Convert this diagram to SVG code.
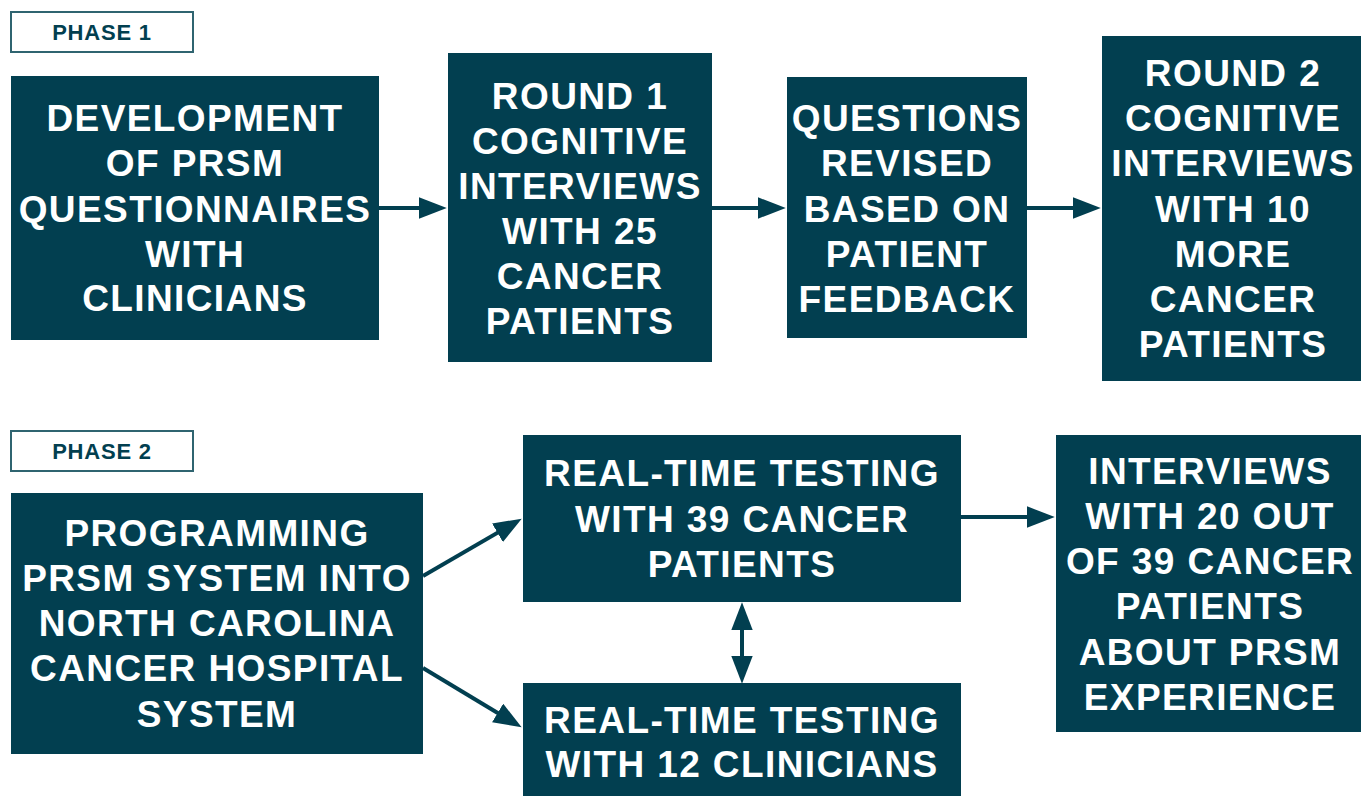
<svg xmlns="http://www.w3.org/2000/svg" width="1361" height="796" viewBox="0 0 1361 796">
<style>
.box{fill:#023f50}
.lbl{fill:#fff;stroke:#2f6470;stroke-width:2}
.t{font-family:"Liberation Sans",Arial,sans-serif;font-weight:bold;font-size:37px;fill:#fff;text-anchor:middle;letter-spacing:1.4px}
.p{font-family:"Liberation Sans",Arial,sans-serif;font-weight:bold;font-size:22px;fill:#023f50;text-anchor:middle;letter-spacing:0.8px}
.c{stroke:#023f50;stroke-width:4;fill:none}
</style>
<defs>
<marker id="ah" markerUnits="userSpaceOnUse" markerWidth="28" markerHeight="22" refX="16" refY="10" orient="auto-start-reverse" viewBox="0 0 26 20">
<path d="M0,0 L26,10 L0,20 z" fill="#023f50"/>
</marker>
</defs>
<rect width="1361" height="796" fill="#fff"/>
<g id="phase1">
<rect class="lbl" x="11" y="12" width="182" height="40"/>
<text class="p" x="102" y="40">PHASE 1</text>
</g>
<g id="phase2">
<rect class="lbl" x="11" y="431" width="182" height="40"/>
<text class="p" x="102" y="459">PHASE 2</text>
</g>
<g id="n1">
<rect class="box" x="11" y="76" width="368" height="264"/>
<text class="t" x="195" y="131">DEVELOPMENT</text>
<text class="t" x="195" y="176">OF PRSM</text>
<text class="t" x="195" y="222">QUESTIONNAIRES</text>
<text class="t" x="195" y="267">WITH</text>
<text class="t" x="195" y="311">CLINICIANS</text>
</g>
<g id="n2">
<rect class="box" x="448" y="53" width="264" height="309"/>
<text class="t" x="580" y="109">ROUND 1</text>
<text class="t" x="580" y="154">COGNITIVE</text>
<text class="t" x="580" y="199">INTERVIEWS</text>
<text class="t" x="580" y="244">WITH 25</text>
<text class="t" x="580" y="289">CANCER</text>
<text class="t" x="580" y="334">PATIENTS</text>
</g>
<g id="n3">
<rect class="box" x="787" y="77" width="240" height="261"/>
<text class="t" x="907" y="131">QUESTIONS</text>
<text class="t" x="907" y="176">REVISED</text>
<text class="t" x="907" y="222">BASED ON</text>
<text class="t" x="907" y="267">PATIENT</text>
<text class="t" x="907" y="312">FEEDBACK</text>
</g>
<g id="n4">
<rect class="box" x="1102" y="36" width="259" height="345"/>
<text class="t" x="1233" y="86">ROUND 2</text>
<text class="t" x="1233" y="131">COGNITIVE</text>
<text class="t" x="1233" y="176">INTERVIEWS</text>
<text class="t" x="1233" y="222">WITH 10</text>
<text class="t" x="1233" y="267">MORE</text>
<text class="t" x="1233" y="312">CANCER</text>
<text class="t" x="1233" y="357">PATIENTS</text>
</g>
<g id="n5">
<rect class="box" x="11" y="493" width="412" height="261"/>
<text class="t" x="217" y="546">PROGRAMMING</text>
<text class="t" x="217" y="591">PRSM SYSTEM INTO</text>
<text class="t" x="217" y="636">NORTH CAROLINA</text>
<text class="t" x="217" y="681">CANCER HOSPITAL</text>
<text class="t" x="217" y="727">SYSTEM</text>
</g>
<g id="n6">
<rect class="box" x="523" y="435" width="438" height="167"/>
<text class="t" x="742" y="486">REAL-TIME TESTING</text>
<text class="t" x="742" y="532">WITH 39 CANCER</text>
<text class="t" x="742" y="577">PATIENTS</text>
</g>
<g id="n7">
<rect class="box" x="523" y="683" width="438" height="113"/>
<text class="t" x="742" y="733">REAL-TIME TESTING</text>
<text class="t" x="742" y="777">WITH 12 CLINICIANS</text>
</g>
<g id="n8">
<rect class="box" x="1056" y="435" width="305" height="297"/>
<text class="t" x="1210" y="484">INTERVIEWS</text>
<text class="t" x="1210" y="529">WITH 20 OUT</text>
<text class="t" x="1210" y="574">OF 39 CANCER</text>
<text class="t" x="1210" y="619">PATIENTS</text>
<text class="t" x="1210" y="665">ABOUT PRSM</text>
<text class="t" x="1210" y="710">EXPERIENCE</text>
</g>
<g id="connectors">
<line class="c" x1="379" y1="208" x2="436" y2="208" marker-end="url(#ah)"/>
<line class="c" x1="712" y1="208" x2="775" y2="208" marker-end="url(#ah)"/>
<line class="c" x1="1027" y1="208" x2="1090" y2="208" marker-end="url(#ah)"/>
<line class="c" x1="961" y1="517" x2="1044" y2="517" marker-end="url(#ah)"/>
<line class="c" x1="423" y1="576" x2="512.4" y2="524.1" marker-end="url(#ah)"/>
<line class="c" x1="423" y1="668" x2="512.4" y2="721.8" marker-end="url(#ah)"/>
<line class="c" x1="742" y1="613" x2="742" y2="673" marker-start="url(#ah)" marker-end="url(#ah)"/>
</g>
</svg>
